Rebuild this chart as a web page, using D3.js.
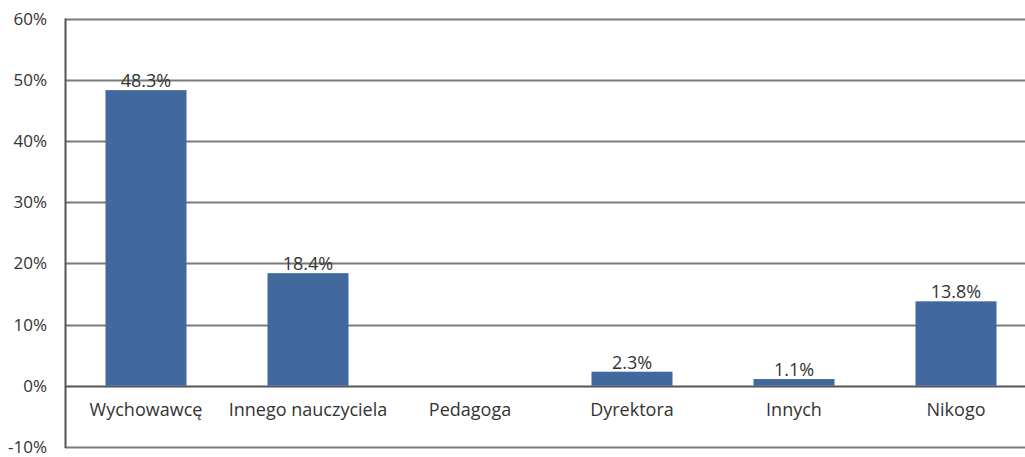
<!DOCTYPE html>
<html>
<head>
<meta charset="utf-8">
<style>
  body { margin: 0; background: #fff; }
  svg text { font-family: "Open Sans", Lato, sans-serif; fill: #333; }
</style>
</head>
<body>
<svg width="1025" height="457"></svg>
<script src="https://d3js.org/d3.v7.min.js"></script>
<script>
var categories = ["Wychowawcę", "Innego nauczyciela", "Pedagoga", "Dyrektora", "Innych", "Nikogo"];
var values = [48.3, 18.4, 0, 2.3, 1.1, 13.8];
var labels = ["48.3%", "18.4%", "", "2.3%", "1.1%", "13.8%"];
var yTicks = [-10, 0, 10, 20, 30, 40, 50, 60];

var svg = d3.select("svg");

var x = d3.scaleBand()
    .domain(categories)
    .range([65, 1037])
    .paddingInner(0.5)
    .paddingOuter(0.25);

var y = d3.scaleLinear()
    .domain([-10, 60])
    .range([447, 18.5]);

// gridlines
svg.append("g")
  .selectAll("line")
  .data(yTicks)
  .enter().append("line")
    .attr("x1", 65)
    .attr("x2", 1037)
    .attr("y1", function(d) { return Math.round(y(d)) + 0.5; })
    .attr("y2", function(d) { return Math.round(y(d)) + 0.5; })
    .attr("stroke", function(d) { return d == 0 ? "#555" : "#7a7a7a"; })
    .attr("stroke-width", 2);

// left axis line
svg.append("line")
    .attr("x1", 65.5).attr("x2", 65.5)
    .attr("y1", y(60)).attr("y2", y(-10) + 1)
    .attr("stroke", "#555")
    .attr("stroke-width", 2);

// y labels
svg.append("g")
  .selectAll("text")
  .data(yTicks)
  .enter().append("text")
    .attr("x", 47)
    .attr("y", function(d) { return y(d) + 6; })
    .attr("text-anchor", "end")
    .attr("font-size", 17)
    .text(function(d) { return d + "%"; });

// bars
svg.append("g")
  .selectAll("rect")
  .data(values)
  .enter().append("rect")
    .attr("x", function(d, i) { return x(categories[i]); })
    .attr("width", x.bandwidth())
    .attr("y", function(d) { return y(d); })
    .attr("height", function(d) { return y(0) - y(d); })
    .attr("fill", "#41699e");

// value labels
svg.append("g")
  .selectAll("text")
  .data(values)
  .enter().append("text")
    .attr("x", function(d, i) { return x(categories[i]) + x.bandwidth() / 2; })
    .attr("y", function(d) { return y(d) - 3; })
    .attr("text-anchor", "middle")
    .attr("font-size", 18)
    .text(function(d, i) { return labels[i]; });

// category labels
svg.append("g")
  .selectAll("text")
  .data(categories)
  .enter().append("text")
    .attr("x", function(d) { return x(d) + x.bandwidth() / 2; })
    .attr("y", 416)
    .attr("text-anchor", "middle")
    .attr("font-size", 18)
    .text(function(d) { return d; });
</script>
</body>
</html>
